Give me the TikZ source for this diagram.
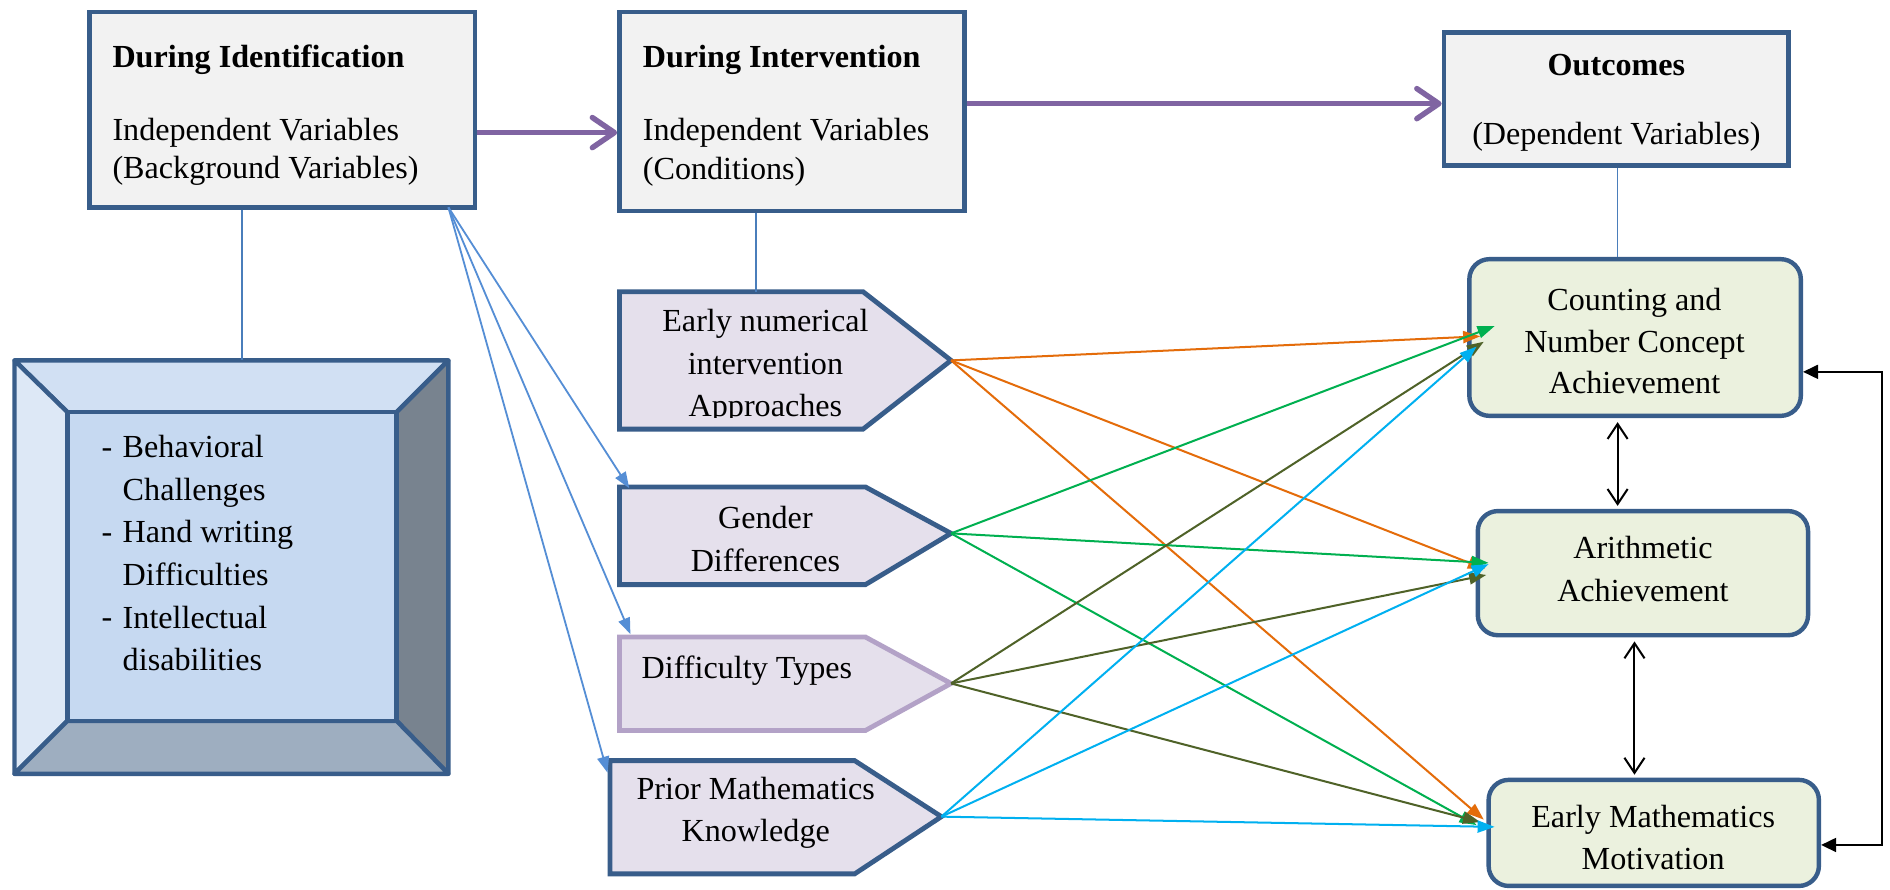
\documentclass[tikz,border=0pt]{standalone}
\usepackage{fontspec}
\setmainfont{Liberation Serif}
\usetikzlibrary{arrows.meta,fit,calc}
\definecolor{boxborder}{HTML}{385D8A}
\definecolor{boxfill}{HTML}{F2F2F2}
\definecolor{purp}{HTML}{8064A2}
\definecolor{thinblue}{HTML}{4A7EBB}
\definecolor{fanblue}{HTML}{558ED5}
\definecolor{pentfill}{HTML}{E5E0EC}
\definecolor{pentlight}{HTML}{B3A2C7}
\definecolor{greenfill}{HTML}{EBF1DE}
\definecolor{corange}{HTML}{E46C0A}
\definecolor{cgreen}{HTML}{00B050}
\definecolor{colive}{HTML}{4F6228}
\definecolor{ccyan}{HTML}{00B0F0}
\definecolor{bevtop}{HTML}{D1E0F3}
\definecolor{bevleft}{HTML}{DDE8F6}
\definecolor{bevright}{HTML}{78838F}
\definecolor{bevbottom}{HTML}{9EAEC0}
\definecolor{bevin}{HTML}{C6D9F1}
\begin{document}
\begin{tikzpicture}[x=0.6pt,y=-0.6pt,
  txt/.style={inner sep=0pt, font=\fontsize{16}{21}\selectfont},
  sl/.style={txt, text height=10.6pt, text depth=0pt},
  btxt/.style={sl, font=\fontsize{16}{21}\selectfont\bfseries},
  headbox/.style={draw=boxborder, fill=boxfill, line width=2.4pt, inner sep=0pt},
  outbox/.style={draw=boxborder, fill=greenfill, line width=2.2pt, rounded corners=10pt, inner sep=0pt},
  pent/.style={draw=boxborder, fill=pentfill, line width=2.4pt, line join=miter},
  bev/.style={draw=boxborder, line width=2.2pt, line join=round},
  bigarrow/.style={draw=purp, line width=2.7pt, -{Straight Barb[length=11pt,width=15pt,round]}},
  thinline/.style={draw=thinblue, line width=0.8pt},
  fan/.style={draw=fanblue, line width=0.9pt, -{Triangle[length=8pt,width=6pt]}},
  link/.style={line width=1pt, -{Triangle[length=8.5pt,width=6pt]}},
  dbl/.style={draw=black, line width=1pt, {Straight Barb[length=7.5pt,width=10pt]}-{Straight Barb[length=7.5pt,width=10pt]}},
  elbow/.style={draw=black, line width=0.9pt, {Triangle[length=7.5pt,width=7pt]}-{Triangle[length=7.5pt,width=7pt]}},
]
\useasboundingbox (0,0) rectangle (1568,738);
\fill[white] (0,0) rectangle (1568,738);

% header boxes
\node[headbox, fit={(74,10) (394,172)}] (b1) {};
\node[headbox, fit={(514,10) (800,175)}] (b2) {};
\node[headbox, fit={(1198,27) (1484,137)}] (b3) {};
\node[btxt, anchor=west] (t1a) at (93,47) {During Identification};
\node[sl, anchor=west] (t1b) at (93,108) {Independent Variables};
\node[sl, anchor=west] (t1c) at (93,139) {(Background Variables)};
\node[btxt, anchor=west] (t2a) at (533,47) {During Intervention};
\node[sl, anchor=west] (t2b) at (533,108) {Independent Variables};
\node[sl, anchor=west] (t2c) at (533,140) {(Conditions)};
\node[btxt] (t3a) at (1341,54) {Outcomes};
\node[sl] (t3b) at (1341,111) {(Dependent Variables)};

% bevel box
\node[fit={(12,299) (372,642)}, inner sep=0pt] (bev) {};
\coordinate (onw) at (12,299); \coordinate (one) at (372,299);
\coordinate (ose) at (372,642); \coordinate (osw) at (12,642);
\coordinate (inw) at (56,342); \coordinate (ine) at (329,342);
\coordinate (ise) at (329,598); \coordinate (isw) at (56,598);
\path[bev, fill=bevtop] (onw) -- (one) -- (ine) -- (inw) -- cycle;
\path[bev, fill=bevleft] (onw) -- (inw) -- (isw) -- (osw) -- cycle;
\path[bev, fill=bevright] (one) -- (ose) -- (ise) -- (ine) -- cycle;
\path[bev, fill=bevbottom] (osw) -- (isw) -- (ise) -- (ose) -- cycle;
\path[bev, fill=bevin] (inw) rectangle (ise);
\node[sl, anchor=west] (dash1) at (84,371) {-};
\node[sl, anchor=west] (dash2) at (84,441) {-};
\node[sl, anchor=west] (dash3) at (84,512) {-};
\node[txt, anchor=west, align=left, font=\fontsize{16}{21.2}\selectfont] (blist) at (101.5,459)
  {Behavioral\\Challenges\\Hand writing\\Difficulties\\Intellectual\\disabilities};

% pentagons
\coordinate (p1nw) at (514,242); \coordinate (p1tip) at (789,299);
\coordinate (p2nw) at (514,404); \coordinate (p2tip) at (789,442.5);
\coordinate (p3nw) at (514,528.5); \coordinate (p3tip) at (789,567);
\coordinate (p4nw) at (506,631); \coordinate (p4tip) at (781,677.5);
\path[pent] (p1nw) -- (716,242) -- (p1tip) -- (716,356) -- (514,356) -- cycle;
\path[pent] (p2nw) -- (718,404) -- (p2tip) -- (718,485) -- (514,485) -- cycle;
\path[pent, draw=pentlight] (p3nw) -- (718,528.5) -- (p3tip) -- (718,606) -- (514,606) -- cycle;
\path[pent] (p4nw) -- (709,631) -- (p4tip) -- (709,725) -- (506,725) -- cycle;
\begin{scope}
\clip (514,242) rectangle (790,346);
\node[txt, align=center, font=\fontsize{16}{21}\selectfont] (p1) at (635,304) {Early numerical\\intervention\\Approaches};
\end{scope}
\node[txt, align=center, font=\fontsize{16}{21.3}\selectfont] (p2) at (635,447) {Gender\\Differences};
\node[sl, anchor=west] (p3) at (532,554) {Difficulty Types};
\node[txt, align=center, font=\fontsize{16}{21}\selectfont] (p4) at (627,674) {Prior Mathematics\\Knowledge};

% outcome boxes
\node[outbox, fit={(1219,215) (1494,345)}] (g1) {};
\node[outbox, fit={(1226,424) (1500,527)}] (g2) {};
\node[outbox, fit={(1235,647) (1509,735)}] (g3) {};
\node[txt, align=center, font=\fontsize{16}{20.8}\selectfont] (g1t) at (1356,283) {Counting and\\Number Concept\\Achievement};
\node[txt, align=center, font=\fontsize{16}{21}\selectfont] (g2t) at (1363,472) {Arithmetic\\Achievement};
\node[txt, align=center, font=\fontsize{16}{21}\selectfont] (g3t) at (1371.5,695) {Early Mathematics\\Motivation};

% purple arrows
\draw[bigarrow] (b1.east |- 0,110) -- (b2.west |- 0,110);
\draw[bigarrow] (b2.east |- 0,86) -- (b3.west |- 0,86);

% thin connector lines
\coordinate (x1) at (201,0); \coordinate (x2) at (627,0); \coordinate (x3) at (1342,0);
\draw[thinline] (x1 |- b1.south) -- (x1 |- bev.north);
\draw[thinline] (x2 |- b2.south) -- (x2 |- p1nw);
\draw[thinline] (x3 |- b3.south) -- (x3 |- g1.north);

% fan arrows
\coordinate (fan) at (372,172);
\coordinate (f2) at (522,405); \coordinate (f3) at (523,526); \coordinate (f4) at (504,641);
\draw[fan] (fan) -- (f2);
\draw[fan] (fan) -- (f3);
\draw[fan] (fan) -- (f4);

% arrow end points on outcome boxes
\coordinate (g1o) at (1228,279); \coordinate (g1g) at (1240,270.5);
\coordinate (g1l) at (1231,283.5); \coordinate (g1c) at (1225,287.5);
\coordinate (g2o) at (1232,472); \coordinate (g2g) at (1235,467);
\coordinate (g2l) at (1233,477); \coordinate (g2c) at (1235,468);
\coordinate (g3o) at (1231,680); \coordinate (g3g) at (1225,684.5);
\coordinate (g3l) at (1228,682); \coordinate (g3c) at (1240,686);

\draw[link, corange] (p1tip) -- (g1o);
\draw[link, corange] (p1tip) -- (g2o);
\draw[link, corange] (p1tip) -- (g3o);
\draw[link, cgreen] (p2tip) -- (g1g);
\draw[link, cgreen] (p2tip) -- (g2g);
\draw[link, cgreen] (p2tip) -- (g3g);
\draw[link, colive] (p3tip) -- (g1l);
\draw[link, colive] (p3tip) -- (g2l);
\draw[link, colive] (p3tip) -- (g3l);
\draw[link, ccyan] (p4tip) -- (g1c);
\draw[link, ccyan] (p4tip) -- (g2c);
\draw[link, ccyan] (p4tip) -- (g3c);

% black arrows between outcomes
\coordinate (x4) at (1356,0);
\draw[dbl, shorten <=2pt, shorten >=1.5pt] (x3 |- g1.south) -- (x3 |- g2.north);
\draw[dbl, shorten <=2pt, shorten >=1.5pt] (x4 |- g2.south) -- (x4 |- g3.north);
\coordinate (ex) at (1561,0);
\draw[elbow] (g1.east |- 0,308.5) -- (ex |- 0,308.5) -- (ex |- 0,701) -- (g3.east |- 0,701);
\end{tikzpicture}
\end{document}
